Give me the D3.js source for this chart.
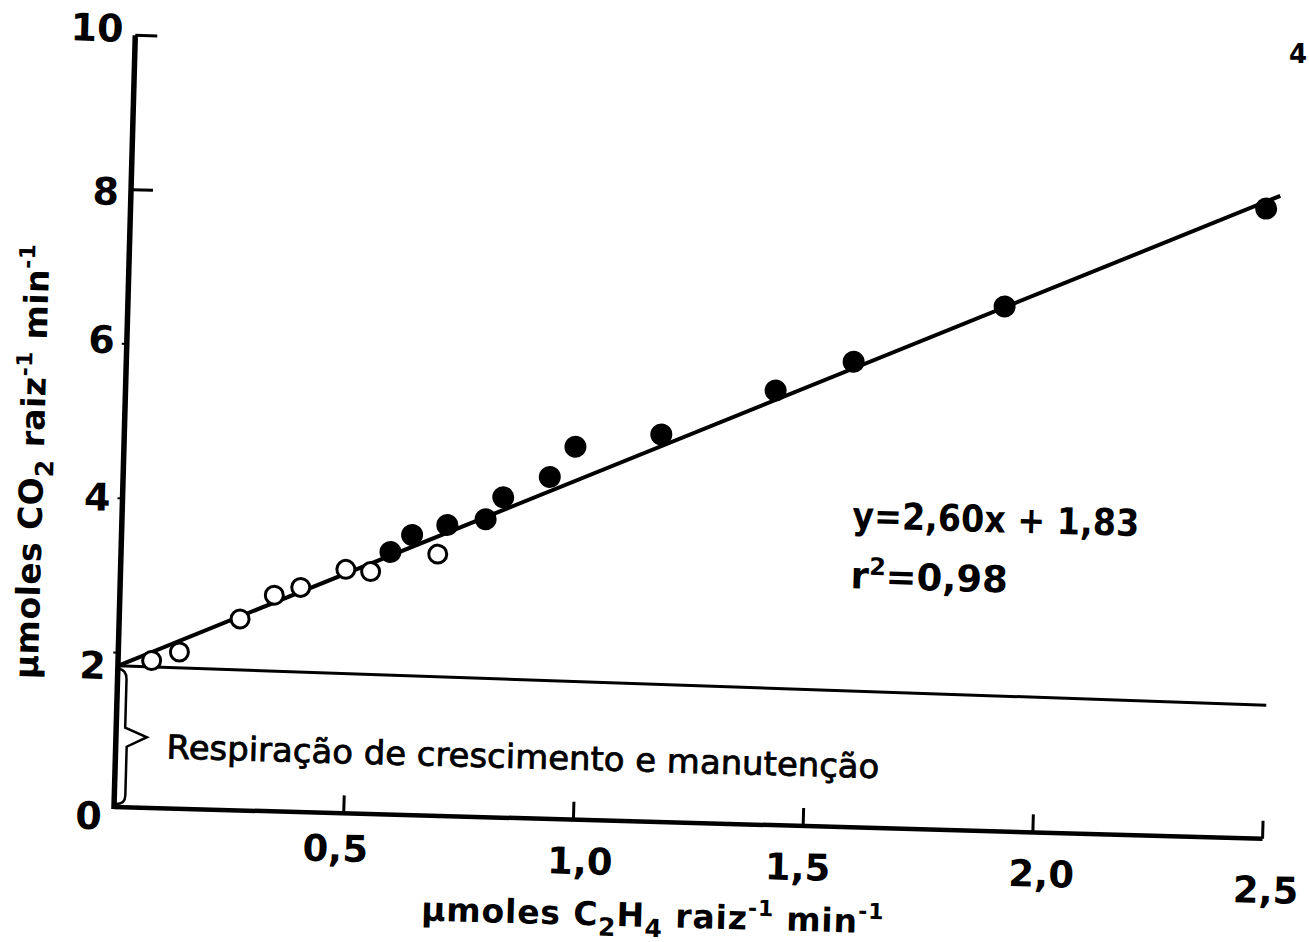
<!DOCTYPE html>
<html>
<head>
<meta charset="utf-8">
<script src="https://cdn.jsdelivr.net/npm/d3@7"></script>
<style>
body { margin: 0; background: #fff; }
svg { display: block; }
text { font-family: "DejaVu Sans", sans-serif; fill: #000; font-weight: bold; }
</style>
</head>
<body>
<script>
// values
var openX = [0.073, 0.133, 0.263, 0.336, 0.393, 0.490, 0.544, 0.689];
var openY = [1.91, 2.03, 2.48, 2.80, 2.91, 3.16, 3.14, 3.39];
var filledX = [0.586, 0.632, 0.708, 0.791, 0.828, 0.928, 0.982, 1.168, 1.414, 1.582, 1.907, 2.470];
var filledY = [3.40, 3.63, 3.77, 3.86, 4.15, 4.43, 4.83, 5.02, 5.63, 6.03, 6.80, 8.16];
var slope = 2.60, intercept = 1.83;
var fitX = [0, 2.5];
var baseX = [0, 2.5];
var baseY = [1.83, 1.73];
var xTicks = [0.5, 1.0, 1.5, 2.0, 2.5];
var xTickLabels = ["0,5", "1,0", "1,5", "2,0", "2,5"];
var yTicks = [0, 2, 4, 6, 8, 10];
var yTickLabels = ["0", "2", "4", "6", "8", "10"];
var yLongTicks = [8, 10];
var yShortTicks = [2, 4, 6];

// the labels were lettered by hand, a little off their ticks
var xLabelShift = [[-12, -6], [3, 0], [-9, 0], [5, 0], [0, 10]];
var yLabelShift = [10, 14, 0, -3, 3, -6];

var width = 1309, height = 942;
var tilt = 1.58; // the scan is turned a little clockwise

var svg = d3.select("body").append("svg")
    .attr("width", width)
    .attr("height", height);

var g = svg.append("g")
    .attr("transform", "translate(114,807) rotate(" + tilt + ")");

var x = d3.scaleLinear().domain([0, 2.5]).range([0, 1149]);
var y = d3.scaleLinear().domain([0, 10]).range([0, -772]);

//////////////////////// axes ////////////////////////
g.append("line")
    .attr("x1", x(0)).attr("y1", y(0))
    .attr("x2", x(2.5)).attr("y2", y(0))
    .attr("stroke", "#000").attr("stroke-width", 4.5);

g.append("line")
    .attr("x1", x(0)).attr("y1", y(0) + 2)
    .attr("x2", x(0)).attr("y2", y(10))
    .attr("stroke", "#000").attr("stroke-width", 5.5);

g.selectAll(".xtick")
    .data(xTicks)
    .enter().append("line")
    .attr("class", "xtick")
    .attr("x1", d => x(d)).attr("x2", d => x(d))
    .attr("y1", 0).attr("y2", -18)
    .attr("stroke", "#000").attr("stroke-width", 3);

g.selectAll(".ytick")
    .data(yLongTicks)
    .enter().append("line")
    .attr("class", "ytick")
    .attr("x1", 0).attr("x2", 22)
    .attr("y1", d => y(d)).attr("y2", d => y(d))
    .attr("stroke", "#000").attr("stroke-width", 3);

g.selectAll(".ystick")
    .data(yShortTicks)
    .enter().append("line")
    .attr("class", "ystick")
    .attr("x1", -5).attr("x2", 0)
    .attr("y1", d => y(d)).attr("y2", d => y(d))
    .attr("stroke", "#000").attr("stroke-width", 2);

var xAxis = g.append("g")
    .call(d3.axisBottom(x)
        .tickValues(xTicks)
        .tickFormat((d, i) => xTickLabels[i])
        .tickSize(0)
        .tickPadding(28));
xAxis.select(".domain").remove();
xAxis.selectAll("text")
    .attr("x", (d, i) => 4 + xLabelShift[i][0])
    .attr("y", (d, i) => 28 + xLabelShift[i][1])
    .style("font-family", "DejaVu Sans")
    .style("font-weight", "bold")
    .style("font-size", "37px");

var yAxis = g.append("g")
    .call(d3.axisLeft(y)
        .tickValues(yTicks)
        .tickFormat((d, i) => yTickLabels[i])
        .tickSize(0)
        .tickPadding(12));
yAxis.select(".domain").remove();
yAxis.selectAll("text")
    .attr("y", (d, i) => yLabelShift[i])
    .style("font-family", "DejaVu Sans")
    .style("font-weight", "bold")
    .style("font-size", "38px");

//////////////////////// lines ////////////////////////
var line = d3.line()
    .x(d => x(d[0]))
    .y(d => y(d[1]));

g.append("path")
    .datum(baseX.map((d, i) => [d, baseY[i]]))
    .attr("d", line)
    .attr("fill", "none")
    .attr("stroke", "#000")
    .attr("stroke-width", 3);

g.append("path")
    .datum(fitX.map(d => [d, slope * d + intercept]))
    .attr("d", line)
    .attr("fill", "none")
    .attr("stroke", "#000")
    .attr("stroke-width", 4);

// brace for the intercept
var bTop = y(intercept), bBot = y(0), bMid = (bTop + bBot) / 2;
g.append("path")
    .attr("d", "M1," + (bTop + 3) + " Q9," + (bTop + 4) + " 9," + (bTop + 14) +
        " L9," + (bMid - 9) + " L31," + bMid + " L11," + (bMid + 10) +
        " L11," + (bBot - 12) + " Q11," + (bBot - 3) + " 2," + (bBot - 3))
    .attr("fill", "none")
    .attr("stroke", "#000")
    .attr("stroke-width", 2.5);

//////////////////////// points ////////////////////////
g.selectAll(".open")
    .data(openX)
    .enter().append("circle")
    .attr("class", "open")
    .attr("cx", d => x(d))
    .attr("cy", (d, i) => y(openY[i]))
    .attr("r", 9)
    .attr("fill", "#fff")
    .attr("stroke", "#000")
    .attr("stroke-width", 3);

g.selectAll(".filled")
    .data(filledX)
    .enter().append("circle")
    .attr("class", "filled")
    .attr("cx", d => x(d))
    .attr("cy", (d, i) => y(filledY[i]))
    .attr("r", 11)
    .attr("fill", "#000");

//////////////////////// texts ////////////////////////
g.append("text")
    .attr("x", 51).attr("y", -50)
    .attr("textLength", 713)
    .attr("lengthAdjust", "spacingAndGlyphs")
    .style("font-size", "33px")
    .style("font-weight", "normal")
    .style("stroke", "#000")
    .style("stroke-width", 0.8)
    .text("Respiração de crescimento e manutenção");

g.append("text")
    .attr("x", 730).attr("y", -299)
    .attr("textLength", 287)
    .attr("lengthAdjust", "spacingAndGlyphs")
    .style("font-size", "37px")
    .text("y=2,60x + 1,83");

var eq2 = g.append("text")
    .attr("x", 730).attr("y", -239)
    .style("font-size", "37px");
eq2.append("tspan").text("r");
eq2.append("tspan").attr("dy", -14).style("font-size", "24px").text("2");
eq2.append("tspan").attr("dy", 14).text("=0,98");

var xt = g.append("text")
    .attr("x", 541).attr("y", 105)
    .attr("text-anchor", "middle")
    .attr("textLength", 462)
    .style("font-size", "33px");
xt.append("tspan").text("µmoles  C");
xt.append("tspan").attr("dy", 10).style("font-size", "25px").text("2");
xt.append("tspan").attr("dy", -10).text("H");
xt.append("tspan").attr("dy", 10).style("font-size", "25px").text("4");
xt.append("tspan").attr("dy", -10).text("  raiz");
xt.append("tspan").attr("dy", -14).style("font-size", "22px").text("-1");
xt.append("tspan").attr("dy", 14).text("  min");
xt.append("tspan").attr("dy", -14).style("font-size", "22px").text("-1");

var yt = g.append("text")
    .attr("transform", "translate(-80,-343) rotate(-90)")
    .attr("text-anchor", "middle")
    .attr("textLength", 435)
    .style("font-size", "33px");
yt.append("tspan").text("µmoles  CO");
yt.append("tspan").attr("dy", 10).style("font-size", "25px").text("2");
yt.append("tspan").attr("dy", -10).text("   raiz");
yt.append("tspan").attr("dy", -14).style("font-size", "22px").text("-1");
yt.append("tspan").attr("dy", 14).text("  min");
yt.append("tspan").attr("dy", -14).style("font-size", "22px").text("-1");

// page number in the corner of the scan
svg.append("text")
    .attr("x", 1298).attr("y", 63)
    .attr("text-anchor", "middle")
    .style("font-size", "26px")
    .text("4");
</script>
</body>
</html>
